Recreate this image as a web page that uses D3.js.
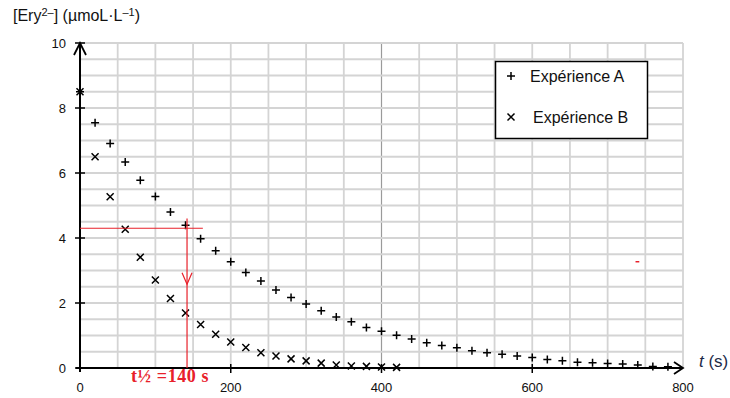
<!DOCTYPE html>
<html>
<head>
<meta charset="utf-8">
<script src="https://cdn.jsdelivr.net/npm/d3@7"></script>
<style>
  body { margin: 0; background: #fff; }
  svg { display: block; }
</style>
</head>
<body>
<div id="chart"></div>
<script>
// times (s) and concentrations
const timesA = [0, 20, 40, 60, 80, 100, 120, 140, 160, 180, 200, 220, 240, 260, 280, 300,
  320, 340, 360, 380, 400, 420, 440, 460, 480, 500, 520, 540, 560, 580, 600, 620, 640,
  660, 680, 700, 720, 740, 760, 780];
const valuesA = [8.5, 7.55, 6.91, 6.34, 5.78, 5.28, 4.8, 4.39, 3.98, 3.61, 3.27, 2.94, 2.68,
  2.4, 2.17, 1.97, 1.76, 1.57, 1.42, 1.25, 1.13, 1.01, 0.89, 0.78, 0.69, 0.62, 0.53, 0.47,
  0.42, 0.37, 0.32, 0.26, 0.22, 0.18, 0.16, 0.14, 0.12, 0.09, 0.05, 0.04];
const timesB = [0, 20, 40, 60, 80, 100, 120, 140, 160, 180, 200, 220, 240, 260, 280, 300,
  320, 340, 360, 380, 400, 420];
const valuesB = [8.5, 6.5, 5.27, 4.27, 3.41, 2.71, 2.14, 1.69, 1.34, 1.04, 0.8, 0.63, 0.47,
  0.37, 0.28, 0.22, 0.15, 0.09, 0.06, 0.05, 0.03, 0.02];
const xTicks = [0, 200, 400, 600, 800];
const yTicks = [0, 2, 4, 6, 8, 10];
const legendLabels = ['Expérience A', 'Expérience B'];
// half-life construction
const halfConc = 4.3;
const halfTime = 142;
const halfLabel = 't½ =140 s';

const width = 730, height = 398;
const svg = d3.select('#chart').append('svg')
  .attr('width', width)
  .attr('height', height);

const x = d3.scaleLinear().domain([0, 800]).range([80, 683]);
const y = d3.scaleLinear().domain([0, 10]).range([368, 43]);

// grid
const grid = svg.append('g');
grid.selectAll('.vg')
  .data(d3.range(50, 801, 50))
  .enter().append('line')
  .attr('x1', d => x(d)).attr('x2', d => x(d))
  .attr('y1', y(10)).attr('y2', y(0))
  .style('stroke', d => d === 400 ? '#9a9a9a' : '#d4d4d4')
  .style('stroke-width', d => d === 400 ? 1.2 : 1.8);
grid.selectAll('.hg')
  .data(d3.range(0.5, 10.01, 0.5))
  .enter().append('line')
  .attr('x1', x(0)).attr('x2', x(800))
  .attr('y1', d => y(d)).attr('y2', d => y(d))
  .style('stroke', '#d4d4d4')
  .style('stroke-width', 1.8);

// axes
const axis = svg.append('g').style('stroke', '#000').style('fill', 'none');
axis.append('line')
  .attr('x1', x(0)).attr('x2', x(0))
  .attr('y1', y(0) + 4).attr('y2', y(10))
  .style('stroke-width', 2);
axis.append('path')
  .attr('d', `M${x(0) - 6},${y(10) + 12}L${x(0)},${y(10)}L${x(0) + 6},${y(10) + 12}`)
  .style('stroke-width', 1.8);
axis.append('line')
  .attr('x1', x(0) - 4).attr('x2', x(800))
  .attr('y1', y(0)).attr('y2', y(0))
  .style('stroke-width', 2);
axis.append('path')
  .attr('d', `M${x(800) - 9},${y(0) - 6}L${x(800)},${y(0)}L${x(800) - 9},${y(0) + 6}`)
  .style('stroke-width', 1.8);

axis.selectAll('.yt')
  .data(yTicks)
  .enter().append('line')
  .attr('x1', x(0) - 5).attr('x2', x(0) + 5)
  .attr('y1', d => y(d)).attr('y2', d => y(d))
  .style('stroke-width', 1.5);
axis.selectAll('.xt')
  .data(xTicks.slice(1, -1))
  .enter().append('line')
  .attr('x1', d => x(d)).attr('x2', d => x(d))
  .attr('y1', y(0) - 4).attr('y2', y(0) + 5)
  .style('stroke-width', 1.5);

const font = 'Liberation Sans, Arial, sans-serif';
svg.selectAll('.yl')
  .data(yTicks)
  .enter().append('text')
  .attr('x', x(0) - 14)
  .attr('y', d => y(d) + 5)
  .attr('text-anchor', 'end')
  .style('font-family', font)
  .style('font-size', '13px')
  .style('fill', '#111')
  .text(d => d);
svg.selectAll('.xl')
  .data(xTicks)
  .enter().append('text')
  .attr('x', d => x(d))
  .attr('y', 392)
  .attr('text-anchor', 'middle')
  .style('font-family', font)
  .style('font-size', '13px')
  .style('fill', '#111')
  .text(d => d);

// axis titles
const yTitle = svg.append('text')
  .attr('x', 13).attr('y', 21)
  .style('font-family', font)
  .style('font-size', '16px')
  .style('fill', '#111');
yTitle.append('tspan').text('[Ery');
yTitle.append('tspan').attr('dy', -5).style('font-size', '11px').text('2–');
yTitle.append('tspan').attr('dy', 5).text('] (µmoL·L');
yTitle.append('tspan').attr('dy', -5).style('font-size', '11px').text('–1');
yTitle.append('tspan').attr('dy', 5).text(')');

const xTitle = svg.append('text')
  .attr('x', 699).attr('y', 367)
  .style('font-family', font)
  .style('font-size', '17px')
  .style('fill', '#1c2a48');
xTitle.append('tspan').style('font-style', 'italic').text('t');
xTitle.append('tspan').text(' (s)');

// markers
const plus = 'M-4,0H4M0,-4V4';
const cross = 'M-3.5,-3.5L3.5,3.5M-3.5,3.5L3.5,-3.5';

svg.append('g').selectAll('path')
  .data(timesA.map((t, i) => [t, valuesA[i]]))
  .enter().append('path')
  .attr('transform', d => `translate(${x(d[0])},${y(d[1])})`)
  .attr('d', plus)
  .style('stroke', '#000')
  .style('stroke-width', 1.5)
  .style('fill', 'none');

svg.append('g').selectAll('path')
  .data(timesB.map((t, i) => [t, valuesB[i]]))
  .enter().append('path')
  .attr('transform', d => `translate(${x(d[0])},${y(d[1])})`)
  .attr('d', cross)
  .style('stroke', '#000')
  .style('stroke-width', 1.5)
  .style('fill', 'none');

// half-life construction in red
const red = '#e8202a';
const anno = svg.append('g').style('stroke', red).style('fill', 'none').style('stroke-width', 1.2);
anno.append('line')
  .attr('x1', x(0)).attr('x2', x(163))
  .attr('y1', y(halfConc)).attr('y2', y(halfConc));
anno.append('line')
  .attr('x1', x(halfTime)).attr('x2', x(halfTime))
  .attr('y1', y(4.6)).attr('y2', y(0));
anno.append('path')
  .attr('d', `M${x(halfTime) - 5},${y(2.93)}L${x(halfTime)},${y(2.58)}L${x(halfTime) + 5},${y(2.93)}`);
anno.append('line')
  .attr('x1', x(737)).attr('x2', x(742))
  .attr('y1', y(3.27)).attr('y2', y(3.27))
  .style('stroke-width', 1.5);

svg.append('text')
  .attr('x', 131).attr('y', 382)
  .style('font-family', 'Liberation Serif, Times New Roman, serif')
  .style('font-weight', 'bold')
  .style('font-size', '18px')
  .style('letter-spacing', '0.6px')
  .style('fill', red)
  .text(halfLabel);

// legend
const legend = svg.append('g');
legend.append('rect')
  .attr('x', 495.5).attr('y', 61.5)
  .attr('width', 152).attr('height', 77)
  .style('fill', '#fff')
  .style('stroke', '#000')
  .style('stroke-width', 1.5);
legendLabels.forEach((label, i) => {
  const cy = 76 + i * 41;
  legend.append('path')
    .attr('transform', `translate(511,${cy})`)
    .attr('d', i === 0 ? plus : cross)
    .style('stroke', '#000')
    .style('stroke-width', 1.5)
    .style('fill', 'none');
  legend.append('text')
    .attr('x', 530 + i * 3)
    .attr('y', cy + 6)
    .style('font-family', font)
    .style('font-size', '16px')
    .style('fill', '#111')
    .text(label);
});
</script>
</body>
</html>
